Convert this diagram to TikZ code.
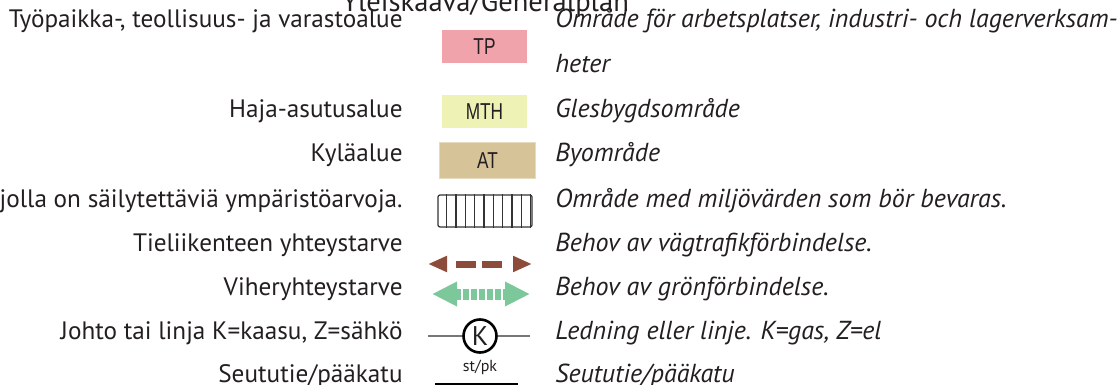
\documentclass[tikz,border=0pt]{standalone}
\usepackage{fontspec}
\setmainfont{PT Sans}
\newfontfamily\kapea[FakeStretch=0.75]{Liberation Sans}
\usetikzlibrary{positioning,calc,arrows.meta}
\definecolor{tekstiv}{HTML}{231F20}
\definecolor{tpv}{HTML}{F0A3AB}
\definecolor{mthv}{HTML}{EEF2B5}
\definecolor{atv}{HTML}{D6C398}
\definecolor{tiev}{HTML}{8C4B3B}
\definecolor{vihv}{HTML}{7DC89B}
\definecolor{johtov}{HTML}{777777}
\newcommand{\selite}{\fontsize{12.6}{15}\selectfont}

\begin{document}
\begin{tikzpicture}[x=0.5pt,y=-0.5pt,
	every node/.style={text=tekstiv},
	fi/.style={anchor=base east,inner sep=0pt,font=\selite},
	sv/.style={anchor=base west,inner sep=0pt,font=\fontsize{13}{15}\selectfont\itshape},
	ruutu/.style={rectangle,inner sep=0pt,minimum width=42.5pt,minimum height=16.5pt,font=\kapea\fontsize{11.5}{13}\selectfont},
	viivoitus/.style={draw=black!80,line width=0.6pt,rounded corners=1pt,minimum width=47pt,minimum height=16pt,inner sep=0pt},
	tie/.style={draw=tiev,line width=3.5pt,{Triangle[length=9.5pt,width=7.5pt]}-{Triangle[length=9.5pt,width=7.5pt]},dash pattern=on 0pt off 5pt on 10pt off 3pt on 10pt off 40pt},
	vih/.style={draw=vihv,line width=5.5pt,{Triangle[length=12.5pt,width=11.5pt]}-{Triangle[length=12.5pt,width=11.5pt]},dash pattern=on 3pt off 1pt},
	johto/.style={draw=johtov,line width=1pt}]
	\useasboundingbox (0,0) rectangle (1119,385);
	
	\node[anchor=base,inner sep=0pt,font=\fontsize{14.3}{17}\selectfont] (otsikko) at (485.5,12) {Yleiskaava/Generalplan};
	
	\node[fi] (fi-tp) at (403,28) {Työpaikka-, teollisuus- ja varastoalue};
	\node[fi] (fi-mth) at (403,118) {Haja-asutusalue};
	\node[fi] (fi-at) at (403,162) {Kyläalue};
	\node[fi] (fi-ymp) at (403,207) {jolla on säilytettäviä ympäristöarvoja.};
	\node[fi] (fi-tie) at (403,251) {Tieliikenteen yhteystarve};
	\node[fi] (fi-vih) at (403,295) {Viheryhteystarve};
	\node[fi] (fi-johto) at (403,339) {Johto tai linja K=kaasu, Z=sähkö};
	\node[fi] (fi-seutu) at (403,382.5) {Seututie/pääkatu};
	
	\node[sv] (sv-tp) at (555,28) {Område för arbetsplatser, industri- och lagerverksam-};
	\node[sv] (sv-tp2) at (555,73) {heter};
	\node[sv] (sv-mth) at (555,118) {Glesbygdsområde};
	\node[sv] (sv-at) at (555,162) {Byområde};
	\node[sv] (sv-ymp) at (555,207) {Område med miljövärden som bör bevaras.};
	\node[sv] (sv-tie) at (555,251) {Behov av vägtrafikförbindelse.};
	\node[sv] (sv-vih) at (555,295) {Behov av grönförbindelse.};
	\node[sv] (sv-johto) at (555,339) {Ledning eller linje. K=gas, Z=el};
	\node[sv] (sv-seutu) at (555,382.5) {Seututie/pääkatu};
	
	\node[ruutu,fill=tpv] (tp) at (484.5,46.5) {TP};
	\node[ruutu,fill=mthv] (mth) at (484.5,111.5) {MTH};
	\node[ruutu,fill=atv,draw=atv!60!white,line width=0.5pt,minimum width=48pt,minimum height=18pt] (at) at (487.5,160.5) {AT};
	\node[viivoitus] (ymp) at (485,211) {};
	\foreach \i in {1,...,10}
		\draw[draw=black!80,line width=0.6pt] ($(ymp.north west)!\i/10.2!(ymp.north east)$) -- ($(ymp.south west)!\i/10.2!(ymp.south east)$);
	
	\coordinate (tie-l) at (428,264);
	\coordinate (tie-r) at (532,264);
	\draw[tie] (tie-l) -- (tie-r);
	\coordinate (vih-l) at (432,294);
	\coordinate (vih-r) at (530,294);
	\draw[vih] (vih-l) -- (vih-r);
	
	\node[circle,draw=black,line width=1.3pt,minimum size=16.5pt,inner sep=0pt,font=\fontsize{13.5}{15}\selectfont] (kaasu) at (480,336) {K};
	\coordinate (johto-l) at (428,336);
	\coordinate (johto-r) at (530,336);
	\draw[johto] (johto-l) -- (kaasu);
	\draw[johto] (kaasu) -- (johto-r);
	
	\node[inner sep=0pt,font=\fontsize{8}{9}\selectfont] (stpk) at (480,367) {st/pk};
	\coordinate (seutu-l) at (435,384.5);
	\coordinate (seutu-r) at (518,384.5);
	\draw[line width=2pt] (seutu-l) -- (seutu-r);
\end{tikzpicture}
\end{document}
